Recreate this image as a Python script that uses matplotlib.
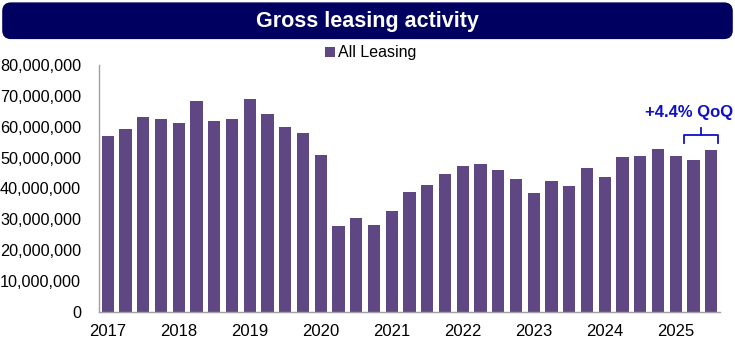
import matplotlib
matplotlib.use("Agg")
import matplotlib.pyplot as plt
from matplotlib.patches import FancyBboxPatch
from matplotlib.ticker import FuncFormatter

# Quarterly gross leasing, 2017 Q1 - 2025 Q3
quarters = [f"{y} Q{q}" for y in range(2017, 2026) for q in range(1, 5)][:35]
leasing = [
    57.0e6, 59.1e6, 63.0e6, 62.6e6, 61.1e6, 68.4e6, 61.8e6, 62.5e6,
    68.9e6, 64.1e6, 59.8e6, 58.0e6, 50.7e6, 27.8e6, 30.4e6, 28.2e6,
    32.7e6, 38.8e6, 41.1e6, 44.7e6, 47.2e6, 47.9e6, 46.0e6, 43.0e6,
    38.5e6, 42.5e6, 40.8e6, 46.6e6, 43.7e6, 50.2e6, 50.5e6, 52.8e6,
    50.5e6, 49.2e6, 52.4e6,
]
year_labels = [str(y) for y in range(2017, 2026)]
annotation = "+4.4% QoQ"

BAR = "#5f4783"
NAVY = "#000060"
ANNO = "#1010c8"

plt.rcParams["font.family"] = ["Liberation Sans", "DejaVu Sans"]

fig = plt.figure(figsize=(7.35, 3.4), dpi=100)

# title banner
banner = FancyBboxPatch((0.003, 0.885), 0.994, 0.108,
                        boxstyle="round,pad=0,rounding_size=0.012",
                        transform=fig.transFigure, facecolor=NAVY,
                        edgecolor="none", mutation_aspect=2.16)
fig.patches.append(banner)
fig.text(0.5, 0.938, "Gross leasing activity", color="white",
         fontsize=15.5, fontweight="bold", ha="center", va="center")

ax = fig.add_axes([0.1347, 0.0824, 0.845, 0.7266])
x = list(range(len(leasing)))
ax.bar(x, leasing, width=0.69, color=BAR, label="All Leasing")

ax.set_xlim(-0.5, 34.5)
ax.set_ylim(0, 80e6)
ax.set_yticks(range(0, 80000001, 10000000))
ax.yaxis.set_major_formatter(FuncFormatter(lambda v, p: f"{v:,.0f}"))
ax.set_xticks(x[::4])
ax.set_xticklabels(year_labels)
ax.tick_params(axis="both", length=0, colors="black")
ax.tick_params(axis="x", pad=9, labelsize=12)
ax.tick_params(axis="y", pad=13, labelsize=11.7)

for s in ["top", "right"]:
    ax.spines[s].set_visible(False)
for s in ["left", "bottom"]:
    ax.spines[s].set_color("#a0a0a0")
    ax.spines[s].set_linewidth(1.0)

ax.legend(loc="upper center", bbox_to_anchor=(0.438, 1.105), frameon=False,
          fontsize=11.5, handlelength=0.6, handleheight=0.6, handletextpad=0.2,
          borderaxespad=0)

# QoQ bracket over the last two bars
xl, xr, xm = 32.45, 34.4, 33.42
yb = 57.3e6
ax.plot([xl, xl, xr, xr], [54.8e6, yb, yb, 54.8e6], color=ANNO, lw=1.3,
        clip_on=False)
ax.plot([xm, xm], [yb, 59.6e6], color=ANNO, lw=1.3, clip_on=False)
ax.text(32.77, 64.5e6, annotation, color=ANNO, fontsize=12,
        fontweight="bold", ha="center", va="center", clip_on=False)

fig.savefig("out.png", dpi=100)
